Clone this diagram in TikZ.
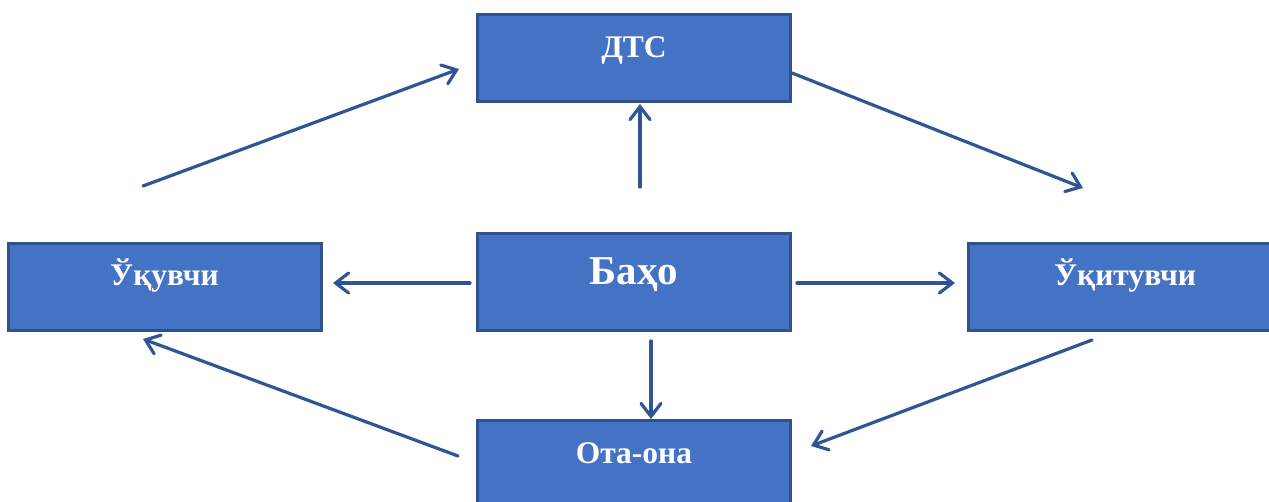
\documentclass[tikz,border=0pt]{standalone}
\usepackage{fontspec}
\setmainfont{Liberation Serif}
\usetikzlibrary{arrows.meta}
\definecolor{boxfill}{HTML}{4472C4}
\definecolor{boxline}{HTML}{2F528F}
\definecolor{arrowc}{HTML}{2F5597}
\begin{document}
\begin{tikzpicture}[x=1pt,y=-1pt,
  box/.style={draw=boxline, line width=3pt, fill=boxfill, text=white,
    font=\bfseries\fontsize{31.5}{31.5}\selectfont, minimum width=313pt,
    minimum height=87pt, inner sep=0pt, outer sep=0pt, text height=22pt},
  conn/.style={draw=arrowc, line width=3.2pt, line cap=round,
    -{Straight Barb[length=13pt,width=20pt,line cap=round]}}]
\useasboundingbox (0,0) rectangle (1269,501);
\clip (0,0) rectangle (1269,501);
% boxes
\node[box, text depth=24pt] (dts) at (634,58) {ДТС};
\node[box, text depth=26pt] (ukuvchi) at (164.5,287) {Ўқувчи};
\node[box, text depth=23pt, text height=28pt, minimum height=97pt,
  font=\bfseries\fontsize{41}{41}\selectfont] (baho) at (634,282) {Баҳо};
\node[box, text depth=26pt] (ukituvchi) at (1125,287) {Ўқитувчи};
\node[box, text depth=24pt] (otaona) at (634,464) {Ота-она};
% connector end points
\coordinate (a1) at (143,186);  \coordinate (a2) at (459,69);
\coordinate (b1) at (640,187);  \coordinate (b2) at (640,104);
\coordinate (c1) at (792,73);   \coordinate (c2) at (1083,188);
\coordinate (d1) at (470,283);  \coordinate (d2) at (333,283);
\coordinate (e1) at (797,283);  \coordinate (e2) at (955,283);
\coordinate (f1) at (651,341);  \coordinate (f2) at (651,419);
\coordinate (g1) at (1092,340); \coordinate (g2) at (811,446);
\coordinate (h1) at (458,456);  \coordinate (h2) at (143,339);
% connectors
\draw[conn] (a1) -- (a2);
\draw[conn] (b1) -- (b2);
\draw[conn] (c1) -- (c2);
\draw[conn] (d1) -- (d2);
\draw[conn] (e1) -- (e2);
\draw[conn] (f1) -- (f2);
\draw[conn] (g1) -- (g2);
\draw[conn] (h1) -- (h2);
\end{tikzpicture}
\end{document}
